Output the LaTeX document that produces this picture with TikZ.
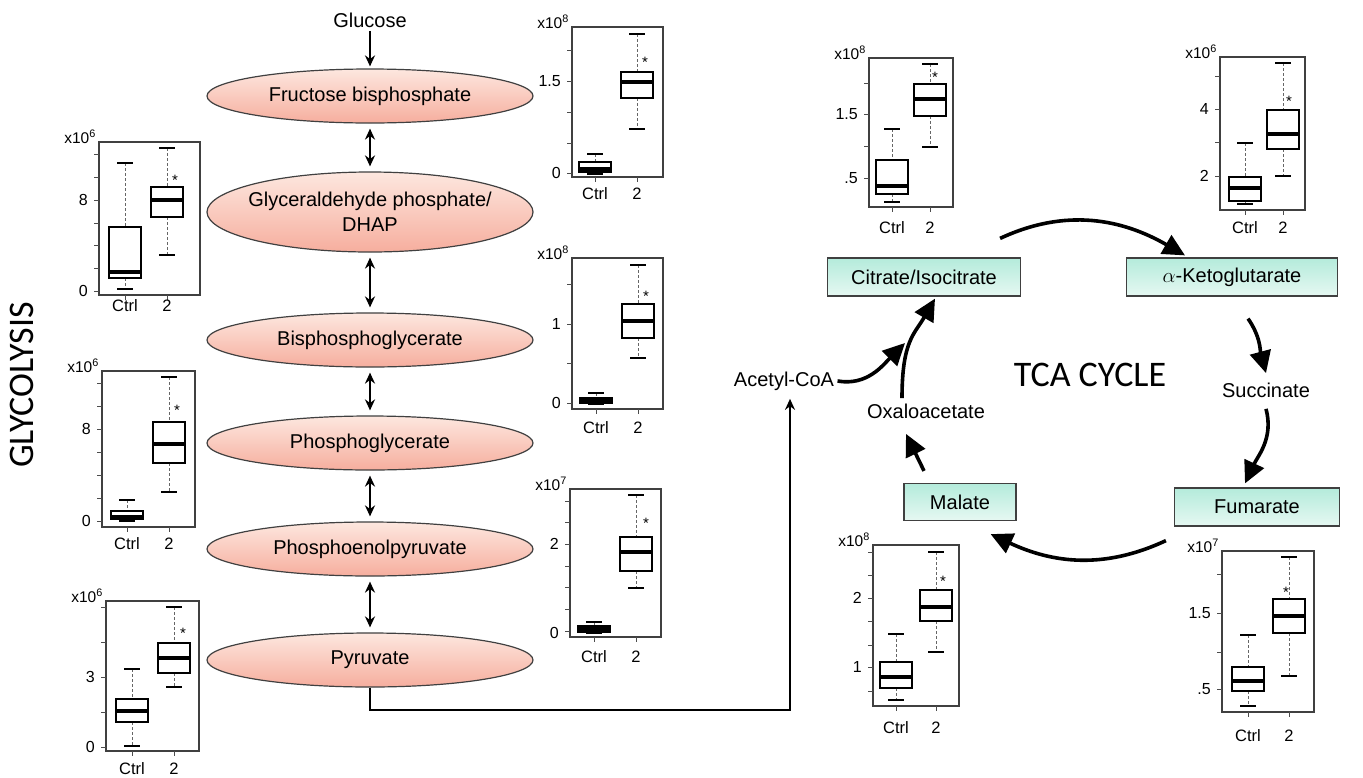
\documentclass[tikz,border=0pt]{standalone}
\usepackage{fontspec}
\setmainfont{Liberation Sans}
\newfontfamily\calib{Carlito}
\usetikzlibrary{arrows.meta}
\usetikzlibrary{shapes.geometric}

\definecolor{metpink}{HTML}{F6AE9E}
\definecolor{metlight}{HTML}{FDE7DF}
\definecolor{tcamint}{HTML}{B4EBDB}
\definecolor{tcalight}{HTML}{E6F8F2}
\definecolor{edgegray}{HTML}{404040}

\tikzset{
  met/.style={ellipse, draw=edgegray, line width=1.2pt, top color=metlight, bottom color=metpink, minimum width=326pt, minimum height=54pt},
  mtxt/.style={font=\fontsize{20}{25}\selectfont, align=center},
  tca/.style={rectangle, draw=edgegray, line width=1.2pt, top color=tcamint, bottom color=tcalight, minimum height=38pt, font=\fontsize{20}{24}\selectfont},
  lbl/.style={font=\fontsize{20}{24}\selectfont},
  thin arrow/.style={line width=1.8pt, -{Stealth[length=11pt,width=10pt]}},
  both arrow/.style={line width=1.8pt, {Stealth[length=11pt,width=10pt]}-{Stealth[length=11pt,width=10pt]}, shorten <=5pt, shorten >=5pt},
  tca arrow/.style={line width=3.6pt, -{Triangle[length=22pt,width=21pt]}},
  bpframe/.style={draw=black!75, line width=1.3pt},
  bpbox/.style={draw=black, line width=1.3pt, fill=white},
  bpmed/.style={line width=4pt},
  bpwhisk/.style={draw=black!60, line width=0.9pt, dash pattern=on 3pt off 2pt},
  bpcap/.style={line width=1.4pt},
  bptick/.style={line width=0.9pt, draw=black!70},
  bpnum/.style={font=\fontsize{16}{18}\selectfont, anchor=east, inner sep=1pt},
  bptxt/.style={font=\fontsize{16.5}{18}\selectfont},
  bpexp/.style={font=\fontsize{15.5}{17}\selectfont, anchor=base east, inner sep=1pt},
  bpstar/.style={font=\fontsize{15}{16}\selectfont},
}

% frame of a box plot: left, top, right, bottom, ctrl x, 2 x, label y, exponent
\newcommand{\plotframe}[8]{%
  \draw[bpframe] (#1,#2) rectangle (#3,#4);
  \draw[bptick] (#5,#4) -- ++(0,5) (#6,#4) -- ++(0,5);
  \node[bptxt] at (#5,#7) {Ctrl};
  \node[bptxt] at (#6,#7) {2};
  \node[bpexp] at (#1-2,#2+1) {x10\textsuperscript{#8}};
}
% y axis ticks: left, list of y
\newcommand{\plotticks}[2]{%
  \foreach \t in {#2} \draw[bptick] (#1,\t) -- ++(-5,0);
}
% one box: x, whisker top, upper quartile, median, lower quartile, whisker bottom
\newcommand{\plotbox}[6]{%
  \draw[bpwhisk] (#1,#2) -- (#1,#3) (#1,#5) -- (#1,#6);
  \draw[bpcap] (#1-8,#2) -- (#1+8,#2) (#1-8,#6) -- (#1+8,#6);
  \draw[bpbox] (#1-16,#3) rectangle (#1+16,#5);
  \draw[bpmed] (#1-16,#4) -- (#1+16,#4);
}

\begin{document}
\begin{tikzpicture}[x=1pt, y=-1pt]
  \useasboundingbox (0,0) rectangle (1363,777);

  % glycolysis
  \node[rotate=90, font=\calib\fontsize{36}{40}\selectfont] (glyc) at (22,385) {GLYCOLYSIS};
  \node[lbl] (glc) at (370,20) {Glucose};
  \node[met, label={[mtxt]center:Fructose bisphosphate}] (fbp) at (370,96) {};
  \node[met, minimum height=80pt, label={[mtxt]center:{Glyceraldehyde phosphate/\\DHAP}}] (gap) at (370,212) {};
  \node[met, label={[mtxt]center:Bisphosphoglycerate}] (bpg) at (370,340) {};
  \node[met, label={[mtxt]center:Phosphoglycerate}] (pg) at (370,443) {};
  \node[met, label={[mtxt]center:Phosphoenolpyruvate}] (pep) at (370,549) {};
  \node[met, label={[mtxt]center:Pyruvate}] (pyr) at (370,660) {};

  \draw[thin arrow, shorten >=2pt] (glc) -- (fbp);
  \draw[both arrow] (fbp) -- (gap);
  \draw[both arrow] (gap) -- (bpg);
  \draw[both arrow] (bpg) -- (pg);
  \draw[both arrow] (pg) -- (pep);
  \draw[both arrow] (pep) -- (pyr);

  % TCA cycle
  \node[font=\calib\fontsize{36}{40}\selectfont] (tcac) at (1090,375) {TCA CYCLE};
  \node[tca, minimum width=193pt] (cit) at (924,277) {Citrate/Isocitrate};
  \node[tca, minimum width=211pt] (akg) at (1232,277) {$\alpha$-Ketoglutarate};
  \node[lbl] (succ) at (1266,390) {Succinate};
  \node[tca, minimum width=165pt] (fum) at (1257,507) {Fumarate};
  \node[tca, minimum width=112pt, minimum height=37pt] (mal) at (960,502) {Malate};
  \node[lbl] (oaa) at (926,411) {Oxaloacetate};
  \node[lbl] (acoa) at (784,381) {Acetyl-CoA};
  \coordinate (join) at (905,343);

  \draw[thin arrow] (pyr.south) -- ++(0,22) -| ([xshift=6pt,yshift=-5pt]acoa.south);

  \draw[tca arrow] ([xshift=-21pt,yshift=19pt]cit.north east) to[out=25,in=150] ([xshift=-47pt,yshift=2pt]akg.north);
  \draw[tca arrow] ([xshift=16pt,yshift=-22pt]akg.south) to[out=-55,in=105] ([yshift=6pt]succ.north);
  \draw[tca arrow] ([yshift=-8pt]succ.south) to[out=-75,in=65] ([xshift=-12pt,yshift=4pt]fum.north);
  \draw[tca arrow] ([xshift=-8pt,yshift=-14pt]fum.south west) to[out=-155,in=-25] ([xshift=-26pt,yshift=-13pt]mal.south east);
  \draw[tca arrow] ([xshift=-36pt,yshift=12pt]mal.north) -- ([xshift=-20pt,yshift=-12pt]oaa.south);
  \draw[tca arrow] ([xshift=-24pt,yshift=2pt]oaa.north) to[out=90,in=-120,out looseness=1.4] ([xshift=11pt,yshift=-2pt]cit.south);
  \draw[tca arrow] (acoa.east) to[out=-10,in=-135] (join);

  % box plots, glycolysis left
  \plotframe{99}{142}{200}{295}{125}{167}{306}{6}
  \plotticks{99}{154,177,200,223,245,268,291}
  \node[bpnum] at (89,200) {8};
  \node[bpnum] at (89,291) {0};
  \plotbox{125}{163}{227}{272}{278}{289}
  \plotbox{167}{148}{187}{200}{217}{255}
  \node[bpstar] at (175,180) {*};

  \plotframe{102}{371}{195}{527}{127}{169}{544}{6}
  \plotticks{102}{383,406,429,452,475,498,521}
  \node[bpnum] at (92,429) {8};
  \node[bpnum] at (92,521) {0};
  \plotbox{127}{500}{511}{517}{519}{521}
  \plotbox{169}{377}{422}{444}{463}{492}
  \node[bpstar] at (177,410) {*};

  \plotframe{106}{601}{199}{751}{132}{174}{769}{6}
  \plotticks{106}{607,642,677,712,747}
  \node[bpnum] at (96,677) {3};
  \node[bpnum] at (96,747) {0};
  \plotbox{132}{669}{699}{711}{722}{746}
  \plotbox{174}{607}{643}{658}{673}{687}
  \node[bpstar] at (183,633) {*};

  % box plots, glycolysis right
  \plotframe{572}{27}{663}{177}{595}{637}{194}{8}
  \plotticks{572}{50,81,112,143,173}
  \node[bpnum] at (562,81) {1.5};
  \node[bpnum] at (562,173) {0};
  \plotbox{595}{154}{162}{169}{172}{174}
  \plotbox{637}{34}{72}{82}{98}{129}
  \node[bpstar] at (645,62) {*};

  \plotframe{572}{258}{663}{409}{596}{638}{428}{8}
  \plotticks{572}{284,324,363,403}
  \node[bpnum] at (562,324) {1};
  \node[bpnum] at (562,403) {0};
  \plotbox{596}{393}{398}{401}{403}{404}
  \plotbox{638}{265}{304}{321}{338}{358}
  \node[bpstar] at (646,296) {*};

  \plotframe{570}{489}{661}{637}{594}{636}{657}{7}
  \plotticks{570}{501,522,544,566,587,609,631}
  \node[bpnum] at (560,544) {2};
  \node[bpnum] at (560,633) {0};
  \plotbox{594}{622}{626}{629}{632}{633}
  \plotbox{636}{495}{537}{552}{571}{588}
  \node[bpstar] at (646,523) {*};

  % box plots, TCA cycle
  \plotframe{869}{58}{953}{207}{892}{930}{228}{8}
  \plotticks{869}{83,114,146,178}
  \node[bpnum] at (859,114) {1.5};
  \node[bpnum] at (859,178) {.5};
  \plotbox{892}{129}{160}{186}{194}{202}
  \plotbox{930}{64}{84}{99}{116}{147}
  \node[bpstar] at (935,77) {*};

  \plotframe{1220}{57}{1305}{210}{1245}{1283}{228}{6}
  \plotticks{1220}{76,109,142,176}
  \node[bpnum] at (1210,109) {4};
  \node[bpnum] at (1210,176) {2};
  \plotbox{1245}{143}{177}{188}{201}{204}
  \plotbox{1283}{63}{110}{134}{149}{176}
  \node[bpstar] at (1289,101) {*};

  \plotframe{873}{545}{959}{706}{896}{936}{728}{8}
  \plotticks{873}{552,575,598,621,645,667,691}
  \node[bpnum] at (863,598) {2};
  \node[bpnum] at (863,667) {1};
  \plotbox{896}{634}{662}{677}{688}{700}
  \plotbox{936}{552}{590}{607}{621}{652}
  \node[bpstar] at (943,581) {*};

  \plotframe{1222}{551}{1314}{712}{1248}{1289}{736}{7}
  \plotticks{1222}{574,613,652,689}
  \node[bpnum] at (1212,613) {1.5};
  \node[bpnum] at (1212,689) {.5};
  \plotbox{1248}{635}{667}{681}{691}{706}
  \plotbox{1289}{557}{599}{616}{633}{676}
  \node[bpstar] at (1286,592) {*};
\end{tikzpicture}
\end{document}
